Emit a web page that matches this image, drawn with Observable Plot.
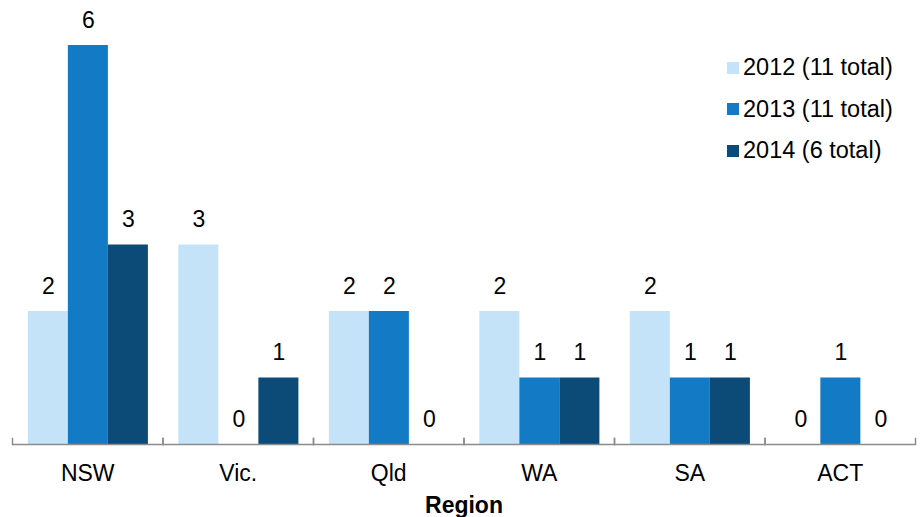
<!DOCTYPE html>
<html>
<head>
<meta charset="utf-8">
<script src="https://cdn.jsdelivr.net/npm/d3@7"></script>
<script src="https://cdn.jsdelivr.net/npm/@observablehq/plot@0.6"></script>
<style>
  html, body { margin: 0; padding: 0; background: #fff; }
  #chart { position: relative; width: 923px; height: 517px; font-family: "Liberation Sans", Arial, sans-serif; }
  #chart svg { font-family: "Liberation Sans", Arial, sans-serif; }
  #chart g[aria-label="fx-axis label"] text { font-weight: bold; }
  .legend { position: absolute; left: 727px; top: 47px; font-size: 23.5px; color: #000; }
  .legend .item { display: flex; align-items: center; height: 41.5px; }
  .legend .swatch { width: 12px; height: 12px; margin-right: 4px; }
</style>
</head>
<body>
<div id="chart"></div>
<script>
// Incidents by region, one bar per year
const regions = ["NSW", "Vic.", "Qld", "WA", "SA", "ACT"];
const years = ["2012", "2013", "2014"];
const values2012 = [2, 3, 2, 2, 2, 0];
const values2013 = [6, 0, 2, 1, 1, 1];
const values2014 = [3, 1, 0, 1, 1, 0];
const legendLabels = ["2012 (11 total)", "2013 (11 total)", "2014 (6 total)"];
const colors = ["#c5e3f8", "#137bc6", "#0c4a78"];

const series = [values2012, values2013, values2014];
const rows = [];
regions.forEach((region, i) => {
  years.forEach((year, j) => {
    rows.push({region, year, value: series[j][i]});
  });
});

const fontSize = 23;

const plot = Plot.plot({
  width: 923,
  height: 517,
  marginLeft: 12,
  marginRight: 8,
  marginTop: 45,
  marginBottom: 73,
  style: {fontFamily: '"Liberation Sans", Arial, sans-serif', color: "#000"},
  fx: {domain: regions, padding: 0, round: false},
  x: {domain: years, paddingInner: 0, paddingOuter: 0.38, align: 0.52, round: false, axis: null},
  y: {domain: [0, 6], axis: null},
  color: {domain: years, range: colors},
  marks: [
    Plot.barY(rows, {fx: "region", x: "year", y: "value", fill: "year"}),
    Plot.text(rows, {fx: "region", x: "year", y: "value", text: d => String(d.value), dy: -25, fontSize}),
    Plot.ruleY([0], {stroke: "#8c8c8c", strokeWidth: 1.5}),
    Plot.frame({anchor: "left", insetTop: 393, stroke: "#8c8c8c", strokeWidth: 1.5}),
    Plot.frame({anchor: "right", insetTop: 393, stroke: "#8c8c8c", strokeWidth: 1.5}),
    Plot.axisFx({
      anchor: "bottom",
      tickSize: 0,
      tickPadding: 20,
      fontSize,
      label: "Region",
      labelAnchor: "center",
      labelOffset: 68
    })
  ]
});

const chart = document.getElementById("chart");
chart.appendChild(plot);

const legend = document.createElement("div");
legend.className = "legend";
legendLabels.forEach((label, i) => {
  const item = document.createElement("div");
  item.className = "item";
  const sw = document.createElement("span");
  sw.className = "swatch";
  sw.style.background = colors[i];
  const tx = document.createElement("span");
  tx.textContent = label;
  item.appendChild(sw);
  item.appendChild(tx);
  legend.appendChild(item);
});
chart.appendChild(legend);
</script>
</body>
</html>
